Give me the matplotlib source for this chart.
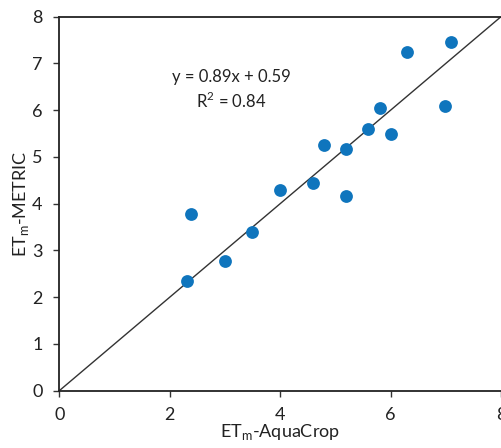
import matplotlib
matplotlib.use("Agg")
import matplotlib.pyplot as plt

aquacrop = [2.31, 2.39, 3.00, 3.49, 3.99, 4.59, 4.80, 5.19, 5.19, 5.59, 5.80, 6.00, 6.30, 6.99, 7.09]
metric   = [2.34, 3.78, 2.78, 3.40, 4.30, 4.45, 5.25, 5.16, 4.17, 5.60, 6.05, 5.50, 7.25, 6.09, 7.46]
xticks = [0, 2, 4, 6, 8]
yticks = [0, 1, 2, 3, 4, 5, 6, 7, 8]

plt.rcParams['font.family'] = ['Lato', 'DejaVu Sans']
plt.rcParams['mathtext.fontset'] = 'custom'
plt.rcParams['mathtext.rm'] = 'Lato'

fig = plt.figure(figsize=(5.01, 4.48), dpi=100)
ax = fig.add_axes([59.3/501, 1-390.7/448, 1-59.3/501, (390.7-16.7)/448])

ax.plot([0, 8], [0, 8], color='#333333', lw=1.0, zorder=2)
ax.scatter(aquacrop, metric, s=85, color='#0F75BD', zorder=3, linewidths=0)

ax.set_xlim(0, 8)
ax.set_ylim(0, 8)
ax.set_xticks(xticks)
ax.set_yticks(yticks)
ax.tick_params(axis='both', direction='out', length=4, width=1, color='#333333',
               labelsize=13, labelcolor='#222222')
ax.tick_params(axis='x', pad=8)
ax.tick_params(axis='y', pad=8)
for s in ['left', 'bottom', 'top']:
    ax.spines[s].set_linewidth(1.3)
    ax.spines[s].set_color('#222222')
ax.spines['right'].set_visible(False)

ax.text(3.11, 6.43, "y = 0.89x + 0.59\nR$^\\mathregular{2}$ = 0.84", ha='center', va='center',
        fontsize=12, color='#222222', linespacing=1.35)

ax.set_xlabel("ET$_\\mathregular{m}$-AquaCrop", fontsize=13, color='#222222', labelpad=-1)
ax.set_ylabel("ET$_\\mathregular{m}$-METRIC", fontsize=13, color='#222222', labelpad=1)

fig.savefig("out.png", dpi=100)
